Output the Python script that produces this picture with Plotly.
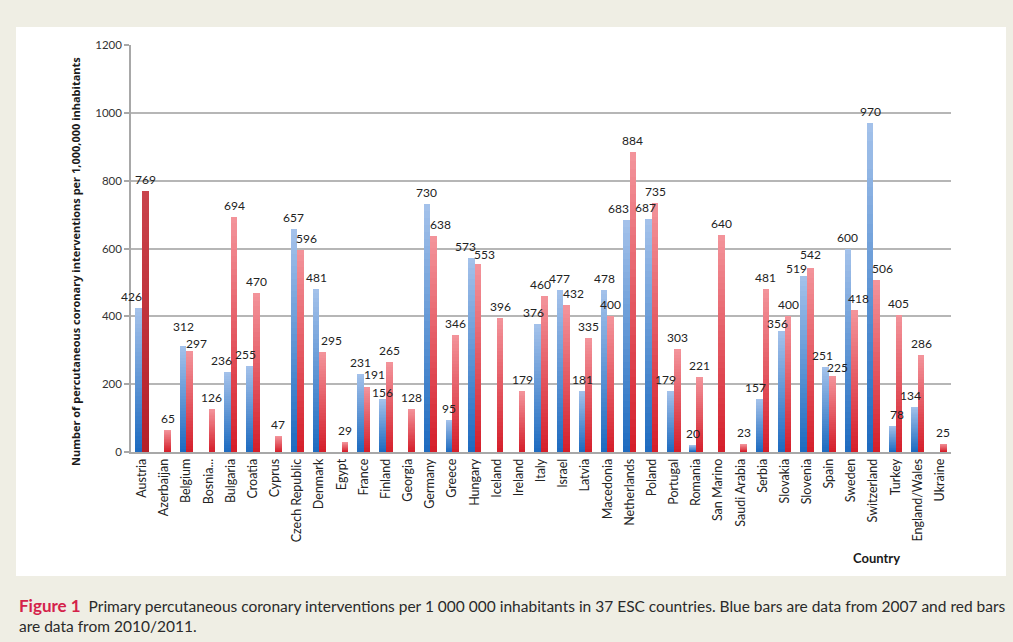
import numpy as np
import plotly.graph_objects as go

countries = ["Austria", "Azerbaijan", "Belgium", "Bosnia...", "Bulgaria", "Croatia", "Cyprus",
             "Czech Republic", "Denmark", "Egypt", "France", "Finland", "Georgia", "Germany",
             "Greece", "Hungary", "Iceland", "Ireland", "Italy", "Israel", "Latvia", "Macedonia",
             "Netherlands", "Poland", "Portugal", "Romania", "San Marino", "Saudi Arabia",
             "Serbia", "Slovakia", "Slovenia", "Spain", "Sweden", "Switzerland", "Turkey",
             "England/Wales", "Ukraine"]

pci_2007 = [426, None, 312, None, 236, 255, None, 657, 481, None,
            231, 156, None, 730, 95, 573, None, None, 376, 477,
            181, 478, 683, 687, 179, 20, None, None, 157, 356,
            519, 251, 600, 970, 78, 134, None]

pci_2010 = [769, 65, 297, 126, 694, 470, 47, 596, 295, 29,
            191, 265, 128, 638, 346, 553, 396, 179, 460, 432,
            335, 400, 884, 735, 303, 221, 640, 23, 481, 400,
            542, 225, 418, 506, 405, 286, 25]

yticks = [0, 200, 400, 600, 800, 1000, 1200]

# pixel nudges (dx, dy) for value labels that sit next to a neighbour's label
nudge_2007 = {"Austria": (-7, 0), "Belgium": (0, 8), "Bulgaria": (-6, 0), "Croatia": (-4, 0),
              "Finland": (0, -5), "Hungary": (-6, 0), "Italy": (-4, 0), "Netherlands": (-8, 0),
              "Poland": (-3, 0), "Portugal": (-5, 0), "Serbia": (-4, 0), "Slovakia": (-4, -4),
              "Slovenia": (-7, -4), "Spain": (-3, 0), "Turkey": (5, 0),
              "England/Wales": (-4, 0)}
nudge_2010 = {"Belgium": (7, -4), "Czech Republic": (6, 0), "Denmark": (9, 0),
              "France": (7, 1), "Germany": (7, 0), "Hungary": (7, -2), "Italy": (-4, 0),
              "Israel": (7, 0), "Spain": (5, -3), "Sweden": (4, 0), "Switzerland": (6, 0),
              "Slovenia": (0, 2)}

FONT = "Lato"
W, H = 1013, 642
ML, MR, MT, MB = 131, 62, 45, 190
PW, PH = W - ML - MR, H - MT - MB


def px_x(p):
    return (p - ML) / PW


def px_y(p):
    return (H - MB - p) / PH


def mix(c0, c1, t):
    a = np.array([int(c0[i:i + 2], 16) for i in (1, 3, 5)], float)
    b = np.array([int(c1[i:i + 2], 16) for i in (1, 3, 5)], float)
    r = a + (b - a) * t
    return "rgb(%d,%d,%d)" % tuple(np.round(r))


# light (top) and dark (bottom) ends of each bar's vertical gradient
BLUE = ("#a3c1ea", "#1a69bf")
RED = ("#f3939a", "#d41c28")
RED_DARK = ("#c9434b", "#b51f28")

idx = np.arange(len(countries))
x_blue = idx - 0.15
x_red = idx + 0.15
BAR_W = 0.3
STEPS = 36

fig = go.Figure()


def gradient_bars(xs, values, palettes, name):
    vals = np.array([np.nan if v is None else v for v in values], float)
    for k in range(STEPS):
        frac = 1 - k / STEPS              # tallest/lightest first, darker ones overlaid below
        t = 1 - frac
        colors = [mix(p[0], p[1], t) for p in palettes]
        fig.add_trace(go.Bar(
            x=xs, y=vals * frac, width=BAR_W,
            marker=dict(color=colors, line=dict(width=0)),
            name=name, showlegend=False, hoverinfo="skip"))


gradient_bars(x_blue, pci_2007, [BLUE] * len(countries), "2007")
gradient_bars(x_red, pci_2010, [RED_DARK] + [RED] * (len(countries) - 1), "2010/2011")

# value labels above each bar
labels = []
for xs, values, nudges in ((x_blue, pci_2007, nudge_2007), (x_red, pci_2010, nudge_2010)):
    for i, v in enumerate(values):
        if v is None:
            continue
        dx, dy = nudges.get(countries[i], (0, 0))
        labels.append(dict(
            x=xs[i], y=v, xref="x", yref="y", text=str(v), showarrow=False,
            yanchor="bottom", yshift=3 + dy, xshift=dx, borderpad=0,
            font=dict(family=FONT, size=12, color="#222222")))

fig.update_layout(
    width=W, height=H, autosize=False,
    margin=dict(l=ML, r=MR, t=MT, b=MB, pad=0),
    paper_bgcolor="#efeee4", plot_bgcolor="white",
    barmode="overlay", bargap=0,
    showlegend=False,
    font=dict(family=FONT, color="#222222"),
    xaxis=dict(
        range=[-0.5, len(countries) - 0.5],
        tickmode="array", tickvals=idx, ticktext=countries,
        tickangle=-90, tickfont=dict(family=FONT, size=12.5, color="#222222"),
        showgrid=False, zeroline=False,
        showline=True, linecolor="#a8a8a8", linewidth=1.5, ticks=""),
    yaxis=dict(
        range=[0, 1200], tickmode="array", tickvals=yticks,
        tickfont=dict(family=FONT, size=11.5, color="#333333"),
        showgrid=True, gridcolor="#b6b6b6", gridwidth=1.5,
        zeroline=False, showline=True, linecolor="#a8a8a8", linewidth=1.5,
        ticks="outside", ticklen=5, tickcolor="#a8a8a8", tickwidth=1.5),
    shapes=[dict(
        type="rect", xref="paper", yref="paper", layer="below",
        x0=px_x(16), x1=px_x(1006), y0=px_y(576), y1=px_y(27),
        fillcolor="white", line=dict(width=0))],
    annotations=labels + [
        dict(text="<b>Number of percutaneous coronary interventions per 1,000,000 inhabitants</b>",
             xref="paper", yref="paper", x=px_x(75), y=px_y(262),
             xanchor="center", yanchor="middle",
             textangle=-90, showarrow=False,
             font=dict(family="Open Sans", size=11, color="#1a1a1a")),
        dict(text="<b>Country</b>", xref="paper", yref="paper",
             x=px_x(876), y=px_y(558), xanchor="center", yanchor="middle",
             showarrow=False,
             font=dict(family=FONT, size=13, color="#1a1a1a")),
        dict(text=("<span style='color:#d4224a;font-size:17px'><b>Figure 1</b></span>"
                   "  Primary percutaneous coronary interventions per 1 000 000 inhabitants in "
                   "37 ESC countries. Blue bars are data from 2007 and red bars<br>"
                   "are data from 2010/2011."),
             xref="paper", yref="paper", x=px_x(17), y=px_y(593),
             xanchor="left", yanchor="top", align="left", showarrow=False,
             font=dict(family=FONT, size=15.5, color="#2a2a2a")),
    ],
)

fig.write_html("out.html")
